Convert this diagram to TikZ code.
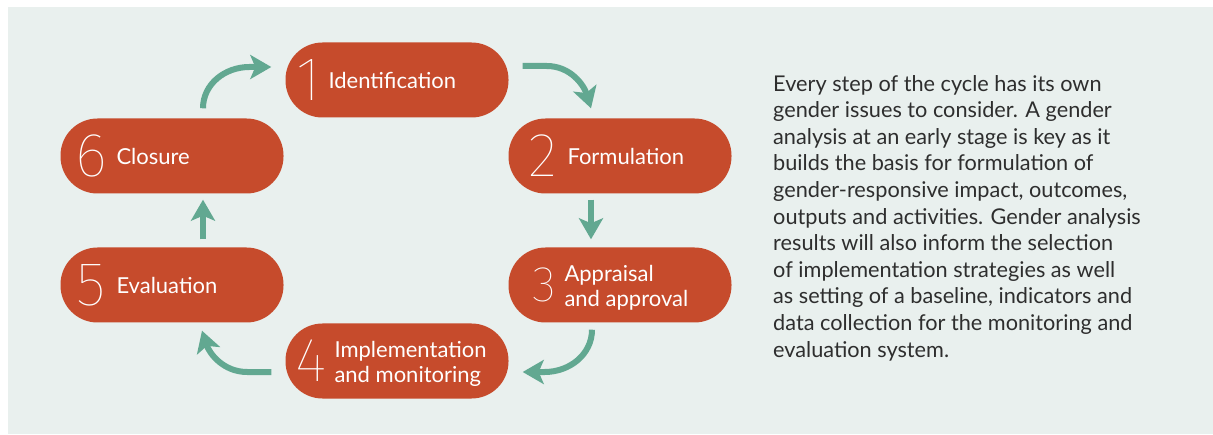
\documentclass[tikz,border=0pt]{standalone}
\usepackage{fontspec}
\setmainfont{Lato}
\newfontfamily\numfont{Fira Sans Thin}
\usetikzlibrary{arrows.meta,calc}
\definecolor{bgc}{HTML}{E9F0EE}
\definecolor{boxc}{HTML}{C64B2C}
\definecolor{arrc}{HTML}{62A891}
\definecolor{parac}{HTML}{2E2E2E}
\begin{document}
\begin{tikzpicture}[x=1pt,y=1pt,
  stepbox/.style={fill=boxc, rounded corners=37pt, minimum width=223pt, minimum height=75pt, inner sep=0pt},
  num/.style={text=white, font=\numfont\fontsize{62}{62}\selectfont, inner sep=0pt, anchor=center},
  lbl/.style={text=white, font=\fontsize{22}{25.5}\selectfont, inner sep=0pt, anchor=west, align=left},
  flow/.style={draw=arrc, line width=6pt, -{Stealth[length=21pt,width=24pt,inset=5pt]}},
]
\useasboundingbox (0,0) rectangle (1213,434);
\fill[bgc] (8,0) rectangle (1213,427);

\node[stepbox] (n1) at (397,354) {};
\node[stepbox] (n2) at (620,278) {};
\node[stepbox] (n3) at (620,149) {};
\node[stepbox] (n4) at (397,73) {};
\node[stepbox] (n5) at (172,149) {};
\node[stepbox] (n6) at (172,278) {};

\node[num] (d1) at ($(n1.west)+(23,0)$) {1};
\node[num] (d2) at ($(n2.west)+(35,0)$) {2};
\node[num, font=\numfont\fontsize{50}{50}\selectfont] (d3) at ($(n3.west)+(36.5,0)$) {3};
\node[num] (d4) at ($(n4.west)+(26,0)$) {4};
\node[num] (d5) at ($(n5.west)+(31,0)$) {5};
\node[num] (d6) at ($(n6.west)+(31,0)$) {6};

\node[lbl] (t1) at ($(n1.west)+(43,0)$) {Identification};
\node[lbl] (t2) at ($(n2.west)+(59,0)$) {Formulation};
\node[lbl] (t3) at ($(n3.west)+(56,-3)$) {Appraisal\\and approval};
\node[lbl] (t4) at ($(n4.west)+(49,-3)$) {Implementation\\and monitoring};
\node[lbl] (t5) at ($(n5.west)+(56,0)$) {Evaluation};
\node[lbl] (t6) at ($(n6.west)+(56,0)$) {Closure};

\draw[flow] ($(n6.north)+(31,10)$) to[out=90,in=180] ($(n1.west)+(-36,13)$) -- ($(n1.west)+(-14,13)$);
\draw[flow] ($(n1.east)+(14,14)$) -- ($(n1.east)+(38,14)$) to[out=0,in=107] ($(n2.north)+(-29,10)$);
\draw[flow] ($(n2.south)+(-29,-6)$) -- ($(n3.north)+(-29,8)$);
\draw[flow] ($(n3.south)+(-28,-7)$) to[out=-90,in=0] ($(n4.east)+(36,-11)$) -- ($(n4.east)+(14,-11)$);
\draw[flow] ($(n4.west)+(-14,-11)$) -- ($(n4.west)+(-38,-11)$) to[out=180,in=-72] ($(n5.south)+(30,-8)$);
\draw[flow] ($(n5.north)+(31,8)$) -- ($(n6.south)+(31,-6)$);

\node[text=parac, font=\fontsize{21.7}{26.6}\selectfont, anchor=north west, align=left, inner sep=0pt] (para) at (773,359)
{Every step of the cycle has its own\\
gender issues to consider. A gender\\
analysis at an early stage is key as it\\
builds the basis for formulation of\\
gender-responsive impact, outcomes,\\
outputs and activities. Gender analysis\\
results will also inform the selection\\
of implementation strategies as well\\
as setting of a baseline, indicators and\\
data collection for the monitoring and\\
evaluation system.};
\end{tikzpicture}
\end{document}
